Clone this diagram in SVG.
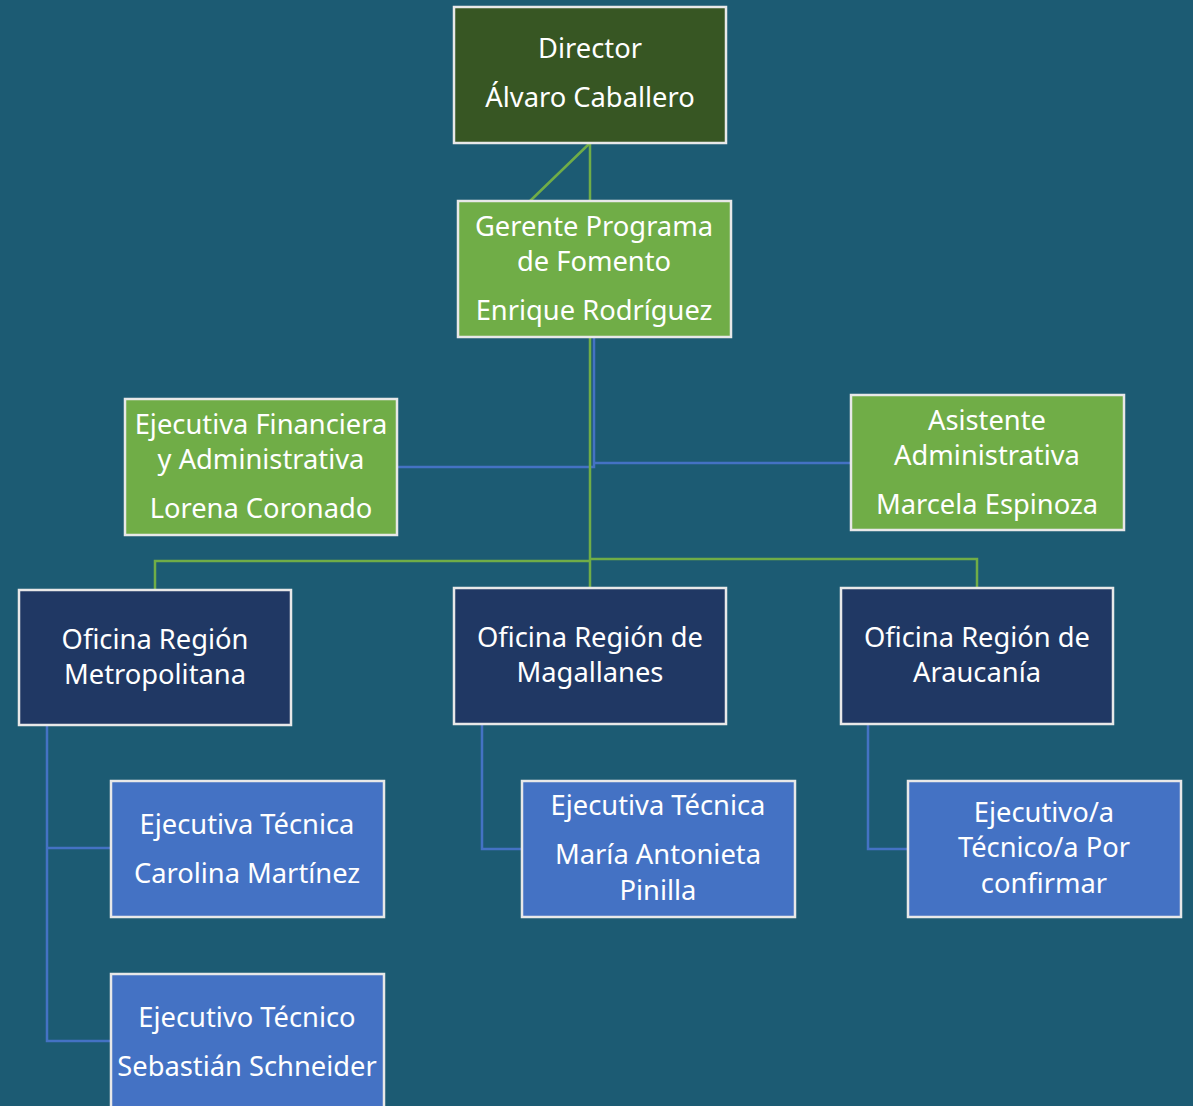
<svg xmlns="http://www.w3.org/2000/svg" width="1193" height="1106" viewBox="0 0 1193 1106">
<style>
  text { font-family: "Noto Sans", "Open Sans", sans-serif; font-size: 27.3px; fill: #ffffff; text-anchor: middle; }
  .box { stroke: #e8e8e8; stroke-width: 2.5; }
  .dg { fill: #375623; }
  .g { fill: #70AD47; }
  .n { fill: #203864; }
  .b { fill: #4472C4; }
  .lg { stroke: #70AD47; stroke-width: 2.5; fill: none; }
  .lb { stroke: #4472C4; stroke-width: 2.5; fill: none; }
</style>
<rect width="1193" height="1106" fill="#1C5B73"/>
<g id="connectors">
  <path class="lg" d="M590 143 V201 M590 143 L530 201"/>
  <path class="lb" d="M594 337 V467 H397 M595 463 H851"/>
  <path class="lg" d="M590 337 V588 M590 561 H155 V590 M590 559 H977 V588"/>
  <path class="lb" d="M47 726 V1041 H111 M47 848 H111"/>
  <path class="lb" d="M482 724 V849 H522"/>
  <path class="lb" d="M868 724 V849 H908"/>
</g>
<g id="director">
  <rect class="box dg" x="454" y="7" width="272" height="136"/>
  <text x="590" y="58">Director</text>
  <text x="590" y="107">Álvaro Caballero</text>
</g>
<g id="gerente">
  <rect class="box g" x="458" y="201" width="273" height="136"/>
  <text x="594" y="236">Gerente Programa</text>
  <text x="594" y="271">de Fomento</text>
  <text x="594" y="320">Enrique Rodríguez</text>
</g>
<g id="ejecutiva-financiera">
  <rect class="box g" x="125" y="399" width="272" height="136"/>
  <text x="261" y="434">Ejecutiva Financiera</text>
  <text x="261" y="469">y Administrativa</text>
  <text x="261" y="518">Lorena Coronado</text>
</g>
<g id="asistente">
  <rect class="box g" x="851" y="395" width="273" height="135"/>
  <text x="987" y="430">Asistente</text>
  <text x="987" y="465">Administrativa</text>
  <text x="987" y="514">Marcela Espinoza</text>
</g>
<g id="oficina-metropolitana">
  <rect class="box n" x="19" y="590" width="272" height="135"/>
  <text x="155" y="649">Oficina Región</text>
  <text x="155" y="684">Metropolitana</text>
</g>
<g id="oficina-magallanes">
  <rect class="box n" x="454" y="588" width="272" height="136"/>
  <text x="590" y="647">Oficina Región de</text>
  <text x="590" y="682">Magallanes</text>
</g>
<g id="oficina-araucania">
  <rect class="box n" x="841" y="588" width="272" height="136"/>
  <text x="977" y="647">Oficina Región de</text>
  <text x="977" y="682">Araucanía</text>
</g>
<g id="carolina">
  <rect class="box b" x="111" y="781" width="273" height="136"/>
  <text x="247" y="834">Ejecutiva Técnica</text>
  <text x="247" y="883">Carolina Martínez</text>
</g>
<g id="sebastian">
  <rect class="box b" x="111" y="974" width="273" height="140"/>
  <text x="247" y="1027">Ejecutivo Técnico</text>
  <text x="247" y="1076">Sebastián Schneider</text>
</g>
<g id="maria">
  <rect class="box b" x="522" y="781" width="273" height="136"/>
  <text x="658" y="815">Ejecutiva Técnica</text>
  <text x="658" y="864">María Antonieta</text>
  <text x="658" y="900">Pinilla</text>
</g>
<g id="ejecutivo-por-confirmar">
  <rect class="box b" x="908" y="781" width="273" height="136"/>
  <text x="1044" y="822">Ejecutivo/a</text>
  <text x="1044" y="857">Técnico/a Por</text>
  <text x="1044" y="893">confirmar</text>
</g>
</svg>
